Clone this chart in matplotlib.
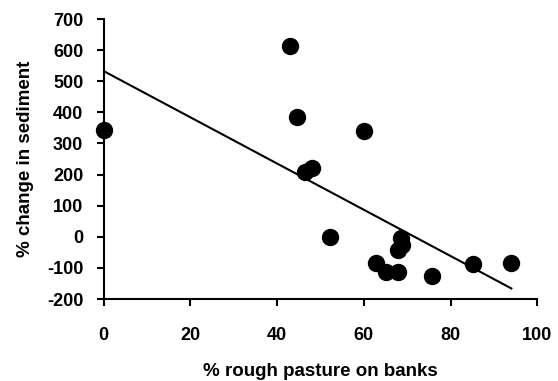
import matplotlib
matplotlib.use('Agg')
import matplotlib.pyplot as plt
from matplotlib.font_manager import FontProperties

# % rough pasture on banks vs % change in sediment
pasture = [0, 43.0, 44.5, 46.4, 48.1, 52.2, 60.0, 62.9, 65.2, 67.9, 67.9, 68.7, 68.6, 75.8, 85.1, 93.8]
sediment = [343, 613, 386, 209, 220, 0, 341, -85, -112, -112, -42, -26, -5, -126, -87, -85]

# trend line
line_x = [0, 94]
line_y = [533, -166]

tick_font = FontProperties(family='Liberation Sans', weight='bold', size=13)
label_font = FontProperties(family='Liberation Sans', weight='bold', size=13.5)

fig = plt.figure(figsize=(5.58, 3.81), dpi=100)
ax = fig.add_axes([0.1855, 0.2152, 0.7776, 0.7348])

ax.plot(line_x, line_y, color='black', linewidth=1.5, zorder=2)
ax.plot(pasture, sediment, 'o', color='black', markersize=11.5, clip_on=False, zorder=3)

ax.set_xlim(0, 100)
ax.set_ylim(-200, 700)
xt = list(range(0, 101, 20))
yt = list(range(-200, 701, 100))
ax.set_xticks(xt)
ax.set_xticklabels([str(v) for v in xt], fontproperties=tick_font)
ax.set_yticks(yt)
ax.set_yticklabels([str(v) for v in yt], fontproperties=tick_font)

for s in ['top', 'right']:
    ax.spines[s].set_visible(False)
for s in ['left', 'bottom']:
    ax.spines[s].set_linewidth(1.5)
ax.tick_params(axis='both', direction='out', length=5, width=1.5)
ax.tick_params(axis='y', pad=9.5)
ax.tick_params(axis='x', pad=15)

ax.set_xlabel('% rough pasture on banks', fontproperties=label_font, labelpad=13.5)
ax.set_ylabel('% change in sediment', fontproperties=label_font, labelpad=9.5)

fig.savefig('out.png', dpi=100)
